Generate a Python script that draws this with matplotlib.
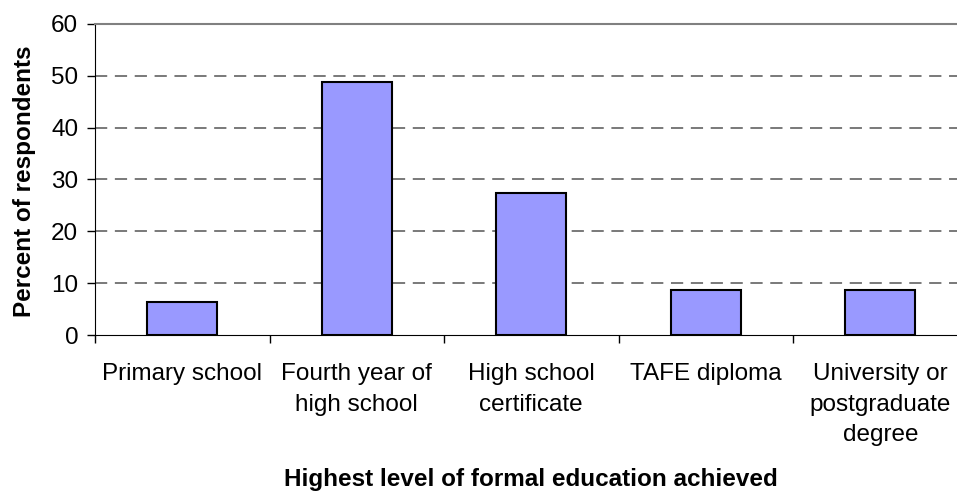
import numpy as np
import matplotlib.pyplot as plt

plt.rcParams['font.family'] = ['Liberation Sans', 'DejaVu Sans']

# Data
categories = ['Primary school', 'Fourth year of\nhigh school', 'High school\ncertificate',
              'TAFE diploma', 'University or\npostgraduate\ndegree']
percents = [6.4, 48.8, 27.4, 8.6, 8.6]
y_ticks = [0, 10, 20, 30, 40, 50, 60]

fig = plt.figure(figsize=(9.57, 4.94), dpi=100)
ax = fig.add_axes([95 / 957, 159 / 494, 872.5 / 957, 311 / 494])

x = np.arange(len(categories))
ax.bar(x, percents, width=0.4, color='#9999FF', edgecolor='black', linewidth=1.5, zorder=3)

ax.set_xlim(-0.5, len(categories) - 0.5)
ax.set_ylim(0, 60)

# gridlines (dashed) except top which is solid frame line
for yv in y_ticks[1:-1]:
    ax.axhline(yv, color='#555555', linewidth=1.1, linestyle=(0, (8, 5)), zorder=1)

ax.spines['top'].set_color('#808080')
ax.spines['top'].set_linewidth(1.5)
ax.spines['right'].set_visible(False)
ax.spines['left'].set_color('black')
ax.spines['bottom'].set_color('black')

ax.set_yticks(y_ticks)
ax.tick_params(axis='y', direction='out', length=6, width=1, pad=6, labelsize=17.5)

# ticks at category boundaries, labels at centers
ax.set_xticks(np.arange(len(categories) + 1) - 0.5)
ax.set_xticklabels([])
ax.tick_params(axis='x', which='major', direction='out', length=5.5, width=1)
ax.set_xticks(x, minor=True)
ax.set_xticklabels(categories, minor=True, fontsize=17.5, linespacing=1.5)
ax.tick_params(axis='x', which='minor', length=0, pad=20.5)

ax.set_ylabel('Percent of respondents', fontsize=17.5, fontweight='bold')
ax.yaxis.set_label_coords(-0.068, 0.495)
fig.text(531 / 957, 15 / 494, 'Highest level of formal education achieved',
         ha='center', va='center', fontsize=17.5, fontweight='bold')

fig.savefig('out.png', dpi=100)
